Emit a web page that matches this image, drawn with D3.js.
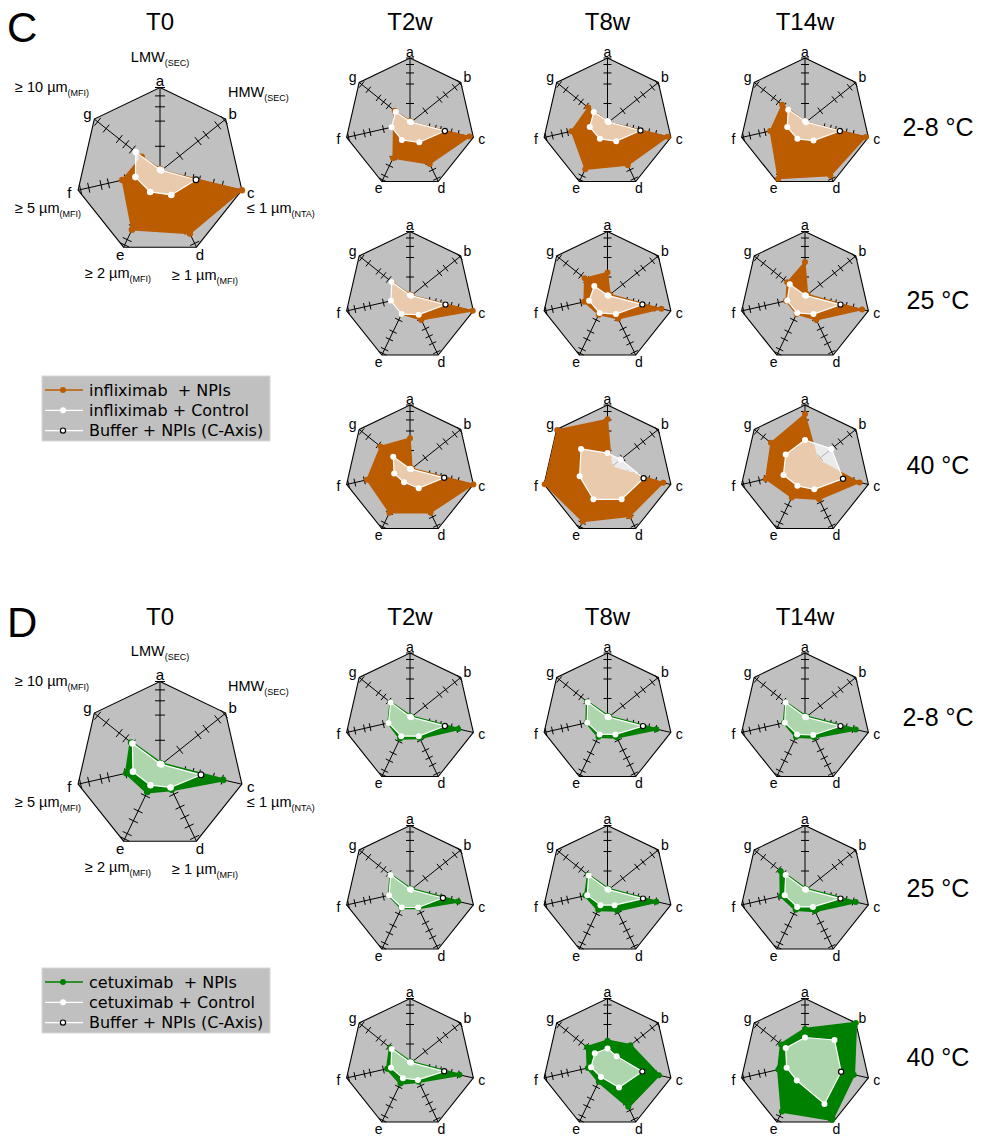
<!DOCTYPE html>
<html>
<head>
<meta charset="utf-8">
<script src="https://cdn.jsdelivr.net/npm/d3@7"></script>
<style>
  body { margin: 0; background: #fff; }
  svg text { font-family: "Liberation Sans", Arial, sans-serif; fill: #000; }
</style>
</head>
<body>
<svg id="chart" width="988" height="1136"></svg>
<script>
// ---- axes (a..g), each with its own normalised scale and tick marks ----
const axisKeys = ["a", "b", "c", "d", "e", "f", "g"];
const ticksA = [0.30, 0.60, 0.77, 0.90, 1.0];
const ticksB = [0.30, 0.58, 0.70, 0.88, 0.98];
const ticksC = [0.30, 0.40, 0.48, 0.65, 0.76];
const ticksD = [0.38, 0.55, 0.68, 0.80, 0.95];
const ticksE = [0.40, 0.60, 0.73, 0.90, 0.97];
const ticksF = [0.42, 0.63, 0.72, 0.87, 0.97];
const ticksG = [0.42, 0.52, 0.62, 0.82, 0.95];
const axisTicks = [ticksA, ticksB, ticksC, ticksD, ticksE, ticksF, ticksG];

const axisNames = ["LMW", "HMW", "\u2264 1 \u00b5m", "\u2265 1 \u00b5m", "\u2265 2 \u00b5m", "\u2265 5 \u00b5m", "\u2265 10 \u00b5m"];
const axisMethods = ["(SEC)", "(SEC)", "(NTA)", "(MFI)", "(MFI)", "(MFI)", "(MFI)"];

const timePoints = ["T0", "T2w", "T8w", "T14w"];
const temperatures = ["2-8 \u00b0C", "25 \u00b0C", "40 \u00b0C"];

// ---- infliximab (panel C); values a..g on the normalised axis scale ----
const infNpiT0  = [0.03, 0.02, 1.00, 0.82, 0.77, 0.46, 0.28];
const infCtrlT0 = [0.02, 0.02, 0.44, 0.31, 0.27, 0.30, 0.37];
const infBufT0  = 0.44;
// rows per temperature, columns T2w, T8w, T14w
const infNpi28  = [[0.03, 0.02, 0.94, 0.70, 0.60, 0.26, 0.30],
                   [0.03, 0.02, 0.95, 0.72, 0.79, 0.57, 0.38],
                   [0.03, 0.02, 0.96, 0.90, 0.95, 0.55, 0.45]];
const infCtrl28 = [[0.02, 0.02, 0.55, 0.33, 0.29, 0.29, 0.28],
                   [0.03, 0.02, 0.52, 0.31, 0.27, 0.28, 0.27],
                   [0.03, 0.02, 0.55, 0.30, 0.27, 0.28, 0.33]];
const infBuf28  = [0.55, 0.52, 0.55];
const infNpi25  = [[0.03, 0.03, 0.99, 0.40, 0.30, 0.29, 0.35],
                   [0.37, 0.05, 0.85, 0.38, 0.31, 0.37, 0.45],
                   [0.53, 0.05, 0.90, 0.40, 0.30, 0.30, 0.35]];
const infCtrl25 = [[0.02, 0.02, 0.56, 0.31, 0.30, 0.30, 0.36],
                   [0.02, 0.02, 0.55, 0.30, 0.28, 0.29, 0.26],
                   [0.02, 0.02, 0.56, 0.30, 0.28, 0.28, 0.30]];
const infBuf25  = [0.56, 0.55, 0.56];
const infNpi40  = [[0.49, 0.04, 1.00, 0.73, 0.73, 0.68, 0.58],
                   [0.78, 0.08, 0.88, 0.79, 0.88, 0.99, 0.99],
                   [0.86, 0.25, 0.86, 0.50, 0.47, 0.62, 0.67]];
const infCtrl40 = [[0.02, 0.02, 0.54, 0.31, 0.21, 0.25, 0.33],
                   [0.26, 0.26, 0.57, 0.50, 0.50, 0.44, 0.52],
                   [0.46, 0.52, 0.60, 0.33, 0.27, 0.34, 0.38]];
const infBuf40  = [0.54, 0.57, 0.60];

// ---- cetuximab (panel D) ----
const cetNpiT0  = [0.03, 0.03, 0.77, 0.32, 0.35, 0.41, 0.44];
const cetCtrlT0 = [0.02, 0.02, 0.50, 0.29, 0.26, 0.33, 0.42];
const cetBufT0  = 0.50;
const cetNpi28  = [[0.03, 0.03, 0.76, 0.34, 0.35, 0.34, 0.38],
                   [0.03, 0.03, 0.77, 0.33, 0.32, 0.33, 0.40],
                   [0.03, 0.03, 0.80, 0.33, 0.32, 0.33, 0.38]];
const cetCtrl28 = [[0.02, 0.02, 0.55, 0.31, 0.31, 0.34, 0.38],
                   [0.02, 0.02, 0.56, 0.28, 0.28, 0.32, 0.39],
                   [0.02, 0.02, 0.56, 0.29, 0.28, 0.32, 0.38]];
const cetBuf28  = [0.55, 0.56, 0.56];
const cetNpi25  = [[0.03, 0.03, 0.76, 0.30, 0.30, 0.33, 0.38],
                   [0.03, 0.03, 0.77, 0.34, 0.33, 0.35, 0.38],
                   [0.03, 0.03, 0.80, 0.35, 0.33, 0.38, 0.48]];
const cetCtrl25 = [[0.02, 0.02, 0.52, 0.29, 0.29, 0.33, 0.38],
                   [0.02, 0.02, 0.56, 0.25, 0.25, 0.32, 0.37],
                   [0.02, 0.02, 0.56, 0.28, 0.28, 0.32, 0.38]];
const cetBuf25  = [0.52, 0.56, 0.56];
const cetNpi40  = [[0.03, 0.03, 0.78, 0.31, 0.34, 0.36, 0.39],
                   [0.35, 0.45, 0.81, 0.74, 0.31, 0.31, 0.40],
                   [0.53, 1.00, 0.77, 0.96, 0.82, 0.42, 0.47]];
const cetCtrl40 = [[0.02, 0.02, 0.54, 0.28, 0.25, 0.30, 0.36],
                   [0.23, 0.18, 0.55, 0.41, 0.23, 0.26, 0.25],
                   [0.40, 0.58, 0.57, 0.69, 0.29, 0.29, 0.38]];
const cetBuf40  = [0.54, 0.55, 0.57];

const infColor = "#bc5c00";
const cetColor = "#008000";
const gridFill = "#c0c0c0";

const svg = d3.select("#chart");
const angle = d3.scaleLinear().domain([0, axisKeys.length]).range([0, 2 * Math.PI]);

function drawRadar(g, r, npi, ctrl, buf, color, opts) {
  const rs = d3.scaleLinear().domain([0, 1]).range([0, r]);
  const frame = d3.lineRadial()
    .angle((d, i) => angle(i)).radius(() => r).curve(d3.curveLinearClosed);
  g.append("path").attr("d", frame(axisKeys))
    .attr("fill", gridFill).attr("stroke", "#000").attr("stroke-width", 1.1);

  // spokes with their tick marks
  axisKeys.forEach((k, i) => {
    const a = angle(i);
    const end = d3.pointRadial(a, r);
    g.append("line").attr("x1", 0).attr("y1", 0).attr("x2", end[0]).attr("y2", end[1])
      .attr("stroke", "#000").attr("stroke-width", 1);
    const px = Math.cos(a), py = Math.sin(a);
    axisTicks[i].forEach(t => {
      const p = d3.pointRadial(a, rs(t));
      g.append("line")
        .attr("x1", p[0] - px * opts.tick).attr("y1", p[1] - py * opts.tick)
        .attr("x2", p[0] + px * opts.tick).attr("y2", p[1] + py * opts.tick)
        .attr("stroke", "#000").attr("stroke-width", 1);
    });
  });

  const poly = d3.lineRadial()
    .angle((d, i) => angle(i)).radius(d => rs(d)).curve(d3.curveLinearClosed);

  g.append("path").attr("d", poly(npi))
    .attr("fill", color).attr("stroke", color)
    .attr("stroke-width", opts.npiStroke).attr("stroke-linejoin", "round");
  npi.forEach((v, i) => {
    const p = d3.pointRadial(angle(i), rs(v));
    g.append("circle").attr("cx", p[0]).attr("cy", p[1]).attr("r", opts.dot).attr("fill", color);
  });

  g.append("path").attr("d", poly(ctrl))
    .attr("fill", "#fff").attr("fill-opacity", 0.68)
    .attr("stroke", "#fff").attr("stroke-width", 1.2).attr("stroke-linejoin", "round");
  ctrl.forEach((v, i) => {
    const p = d3.pointRadial(angle(i), rs(v));
    g.append("circle").attr("cx", p[0]).attr("cy", p[1]).attr("r", opts.dot).attr("fill", "#fff");
  });

  const bp = d3.pointRadial(angle(2), rs(buf));
  g.append("circle").attr("cx", bp[0]).attr("cy", bp[1]).attr("r", opts.dot - 0.4)
    .attr("fill", "#fff").attr("stroke", "#000").attr("stroke-width", 1.2);

  // axis letters
  axisKeys.forEach((k, i) => {
    const gap = opts.labelGap + (i === 0 ? -2 : 0) + (i === 3 || i === 4 ? -1 : 0);
    const p = d3.pointRadial(angle(i), r + gap);
    g.append("text").attr("x", p[0]).attr("y", p[1])
      .attr("text-anchor", "middle").attr("dominant-baseline", "central")
      .attr("font-size", opts.letterSize).text(k);
  });
}

// descriptive labels around the large T0 radar
const bigLabelPos = [
  { x: 0, y: -110, anchor: "middle" },
  { x: 68, y: -75, anchor: "start" },
  { x: 87, y: 41, anchor: "start" },
  { x: 12, y: 108, anchor: "start" },
  { x: -42, y: 106, anchor: "middle" },
  { x: -145, y: 41, anchor: "start" },
  { x: -145, y: -80, anchor: "start" }
];
function drawBigLabels(g) {
  axisNames.forEach((name, i) => {
    const pos = bigLabelPos[i];
    const t = g.append("text").attr("x", pos.x).attr("y", pos.y)
      .attr("text-anchor", pos.anchor).attr("font-size", 14.5);
    t.append("tspan").text(name);
    t.append("tspan").attr("font-size", 9).attr("dy", 4).text(axisMethods[i]);
  });
}

const colX = [160, 410, 607.5, 805];
const bigR = 84, smallR = 65;

const panels = [
  { letter: "C", top: 0, color: infColor, bigY: 171.5, rowY: [123, 296.5, 470], tempY: [127, 300, 465],
    t0: [infNpiT0, infCtrlT0, infBufT0],
    rows: [[infNpi28, infCtrl28, infBuf28], [infNpi25, infCtrl25, infBuf25], [infNpi40, infCtrl40, infBuf40]],
    legend: ["infliximab  + NPIs", "infliximab + Control", "Buffer + NPIs (C-Axis)"], legendY: 376 },
  { letter: "D", top: 595, color: cetColor, bigY: 765.5, rowY: [718, 890.5, 1063.5], tempY: [717, 888, 1057],
    t0: [cetNpiT0, cetCtrlT0, cetBufT0],
    rows: [[cetNpi28, cetCtrl28, cetBuf28], [cetNpi25, cetCtrl25, cetBuf25], [cetNpi40, cetCtrl40, cetBuf40]],
    legend: ["cetuximab  + NPIs", "cetuximab + Control", "Buffer + NPIs (C-Axis)"], legendY: 968 }
];

panels.forEach(pn => {
  const isD = pn.letter === "D";
  svg.append("text").attr("x", 7).attr("y", pn.top + 42).attr("font-size", 42).text(pn.letter);
  timePoints.forEach((tp, j) => {
    svg.append("text").attr("x", colX[j]).attr("y", pn.top + 30)
      .attr("text-anchor", "middle").attr("font-size", 24).text(tp);
  });

  const big = svg.append("g").attr("transform", `translate(${colX[0]},${pn.bigY})`);
  drawRadar(big, bigR, pn.t0[0], pn.t0[1], pn.t0[2], pn.color,
    { tick: 5, npiStroke: isD ? 3.2 : 1.5, dot: 3.3, labelGap: 9, letterSize: 15 });
  drawBigLabels(big);

  pn.rows.forEach((row, ri) => {
    [0, 1, 2].forEach(ci => {
      const g = svg.append("g").attr("transform", `translate(${colX[ci + 1]},${pn.rowY[ri]})`);
      drawRadar(g, smallR, row[0][ci], row[1][ci], row[2][ci], pn.color,
        { tick: 4, npiStroke: isD ? 2.6 : 1.3, dot: 3, labelGap: 8.5, letterSize: 14 });
    });
    svg.append("text").attr("x", 938).attr("y", pn.tempY[ri] + 9)
      .attr("text-anchor", "middle").attr("font-size", 25).text(temperatures[ri]);
  });

  // legend
  const lg = svg.append("g").attr("transform", `translate(42,${pn.legendY})`);
  lg.append("rect").attr("width", 228).attr("height", 65).attr("fill", gridFill)
    .attr("stroke", "#d8d8d8").attr("stroke-width", 1);
  pn.legend.forEach((label, k) => {
    const y = 14 + k * 20.3;
    const lineColor = k === 0 ? pn.color : "#fff";
    lg.append("line").attr("x1", 3).attr("x2", 41).attr("y1", y).attr("y2", y)
      .attr("stroke", lineColor).attr("stroke-width", 1.3);
    if (k < 2) {
      lg.append("circle").attr("cx", 21).attr("cy", y).attr("r", 3).attr("fill", lineColor);
    } else {
      lg.append("circle").attr("cx", 21).attr("cy", y).attr("r", 2.6)
        .attr("fill", "#fff").attr("stroke", "#000").attr("stroke-width", 1.2);
    }
    lg.append("text").attr("x", 47).attr("y", y + 5.6)
      .style("font-family", "'DejaVu Sans', Verdana, sans-serif")
      .style("white-space", "pre")
      .attr("font-size", 16).text(label);
  });
});
</script>
</body>
</html>
